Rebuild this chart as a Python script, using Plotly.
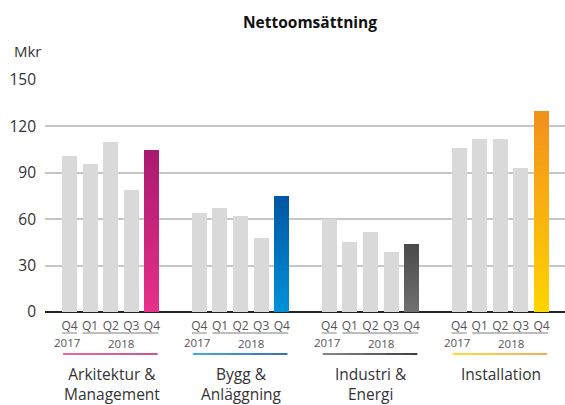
import plotly.graph_objects as go

# ---- data ----
kvartal = ["Q4", "Q1", "Q2", "Q3", "Q4"]
ar_labels = ["2017", "2018"]
segment_names = ["Arkitektur &<br>Management", "Bygg &<br>Anläggning", "Industri &<br>Energi", "Installation"]
arkitektur = [101, 96, 110, 79, 105]
bygg = [64, 67, 62, 48, 75]
industri = [60, 45, 52, 39, 44]
installation = [106, 112, 112, 93, 130]
series = [arkitektur, bygg, industri, installation]

# ---- style ----
bar_gradients = [("#e8308a", "#a81a6e"), ("#0092d9", "#0056a2"), ("#707070", "#4a4a4a"), ("#ffd500", "#f28f1c")]
line_gradients = [("#e8308a", "#b01e74"), ("#0092d9", "#003f9a"), ("#606060", "#000000"), ("#ffd200", "#f28f1c")]
GREY = "#d9d9d9"
FONT = "Open Sans"
PERIOD = 6.3
BW = 0.73
W, H = 565, 405
L = 45
PLOT_TOP, PLOT_BOTTOM = 80, 312


def lerp(c1, c2, t):
    a = [int(c1[i:i + 2], 16) for i in (1, 3, 5)]
    b = [int(c2[i:i + 2], 16) for i in (1, 3, 5)]
    return "#%02x%02x%02x" % tuple(round(a[j] + (b[j] - a[j]) * t) for j in range(3))


def py(px):
    return (PLOT_BOTTOM - px) / (PLOT_BOTTOM - PLOT_TOP)


def pxx(px):
    return (px - L) / (W - L)


fig = go.Figure()

# grey bars
gx, gy = [], []
for g, s in enumerate(series):
    for i in range(4):
        gx.append(g * PERIOD + i)
        gy.append(s[i])
fig.add_trace(go.Bar(x=gx, y=gy, width=BW, marker=dict(color=GREY, line=dict(width=0)), showlegend=False))

# highlighted bars with vertical gradient (nested bars, tallest first)
N = 40
hx = [g * PERIOD + 4 for g in range(4)]
for k in range(N):
    frac = (N - k) / N
    tcol = (N - k - 0.5) / N
    fig.add_trace(go.Bar(
        x=hx, y=[s[4] * frac for s in series], width=BW,
        marker=dict(color=[lerp(c[0], c[1], tcol) for c in bar_gradients], line=dict(width=0)),
        showlegend=False, hoverinfo="skip"))

shapes = []
annotations = []
for g in range(4):
    x0 = g * PERIOD
    # grey underlines under quarter labels
    shapes.append(dict(type="line", xref="x", yref="paper", x0=x0 - BW / 2, x1=x0 + BW / 2,
                       y0=py(333), y1=py(333), line=dict(color="#bdbdbd", width=1.8)))
    shapes.append(dict(type="line", xref="x", yref="paper", x0=x0 + 1 - BW / 2, x1=x0 + 4 + BW / 2 - 0.05,
                       y0=py(333), y1=py(333), line=dict(color="#bdbdbd", width=1.8)))
    # gradient coloured line
    M = 30
    a, b = x0 - BW / 2 + 0.05, x0 + 4 + BW / 2 - 0.1
    for m in range(M):
        shapes.append(dict(type="line", xref="x", yref="paper",
                           x0=a + (b - a) * m / M, x1=a + (b - a) * (m + 1) / M + 0.01,
                           y0=py(354), y1=py(354),
                           line=dict(color=lerp(line_gradients[g][0], line_gradients[g][1], (m + 0.5) / M), width=1.5)))
    annotations.append(dict(x=x0 - 0.1, y=py(342), xref="x", yref="paper", text=ar_labels[0], showarrow=False,
                            xanchor="center", yanchor="middle",
                            font=dict(family=FONT, size=11.5, color="#555555")))
    annotations.append(dict(x=x0 + 2.5, y=py(343), xref="x", yref="paper", text=ar_labels[1], showarrow=False,
                            xanchor="center", yanchor="middle",
                            font=dict(family=FONT, size=11.5, color="#555555")))
    annotations.append(dict(x=x0 + 2.05, y=py(361), xref="x", yref="paper", text=segment_names[g], showarrow=False,
                            xanchor="center", yanchor="top", align="center",
                            font=dict(family=FONT, size=15.5, color="#333333")))

annotations.append(dict(x=pxx(12), y=py(51), xref="paper", yref="paper", text="Mkr", showarrow=False,
                        xanchor="left", yanchor="middle", font=dict(family=FONT, size=15, color="#333333")))

tickvals = [g * PERIOD + i for g in range(4) for i in range(5)]
ticktext = kvartal * 4

fig.update_layout(
    width=W, height=H,
    margin=dict(l=L, r=0, t=PLOT_TOP, b=H - PLOT_BOTTOM, autoexpand=False),
    paper_bgcolor="white", plot_bgcolor="white",
    barmode="overlay", bargap=0,
    title=dict(text="<b>Nettoomsättning</b>", x=310 / W, xanchor="center", y=1 - 23 / H, yanchor="middle",
               font=dict(family=FONT, size=15.5, color="#111111")),
    xaxis=dict(range=[-1.189, 24.04], tickvals=tickvals, ticktext=ticktext, showgrid=False,
               showline=False, zeroline=False, ticks="", ticklabelstandoff=5,
               tickfont=dict(family=FONT, size=12, color="#555555"), fixedrange=True),
    yaxis=dict(range=[0, 150], tickvals=[0, 30, 60, 90, 120, 150], showgrid=True, gridcolor="#c6c6c6",
               gridwidth=1.5, zeroline=True, zerolinecolor="#222222", zerolinewidth=2,
               showline=False, ticks="", ticklabelstandoff=8, fixedrange=True,
               tickfont=dict(family=FONT, size=15.5, color="#333333")),
    shapes=shapes, annotations=annotations,
    showlegend=False,
)

fig.write_html("out.html", config={"displayModeBar": False},
               post_script="document.body.style.margin='0';document.body.style.padding='0';")
